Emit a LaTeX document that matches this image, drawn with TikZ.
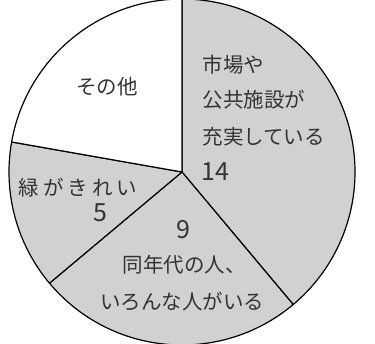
\documentclass[tikz,border=0pt]{standalone}
\usepackage{fontspec}
\newfontfamily\jpfont{Noto Sans CJK JP}
\newfontfamily\jpwide{Noto Sans CJK JP}[LetterSpace=20]
\usetikzlibrary{positioning}

\begin{document}
\begin{tikzpicture}[x=1pt, y=1pt, line width=1.2pt]
		\tikzset{slice/.style={draw=black, fill=black!18, line join=round}}
		\tikzset{rest/.style={draw=black, fill=white, line join=round}}
		\tikzset{lbl/.style={font=\jpfont\fontsize{20.5}{20.5}\selectfont, text=black!80, inner sep=0}}
		\tikzset{num/.style={font=\jpfont\fontsize{25}{25}\selectfont, text=black!80, inner sep=0}}
		
		\useasboundingbox (0,0) rectangle (375,343);
		\coordinate (c) at (182,171);
		
		% slices
		\draw[slice] (c) -- ++(90:173) arc[start angle=90, end angle=-50, radius=173] -- cycle;
		\draw[slice] (c) -- ++(-50:173) arc[start angle=-50, end angle=-140, radius=173] -- cycle;
		\draw[slice] (c) -- ++(-140:173) arc[start angle=-140, end angle=-190, radius=173] -- cycle;
		\draw[rest] (c) -- ++(170:173) arc[start angle=170, end angle=90, radius=173] -- cycle;
		
		% labels
		\node[lbl] (other) at (107,256) {その他};
		
		\node[lbl, anchor=west] (m1) at (202,278) {市場や};
		\node[lbl, anchor=west] (m2) at (202,243) {公共施設が};
		\node[lbl, anchor=west] (m3) at (202,206) {充実している};
		\node[num, anchor=west] (m4) at (201,171) {14};
		
		\node[lbl, anchor=west, font=\jpwide\fontsize{20.5}{20.5}\selectfont] (g1) at (18,155) {緑がきれい};
		\node[num] (g2) at (100,130) {5};
		
		\node[num] (s1) at (183,113) {9};
		\node[lbl] (s2) at (184,78) {同年代の人、};
		\node[lbl] (s3) at (182,41) {いろんな人がいる};
		
	\end{tikzpicture}
\end{document}
